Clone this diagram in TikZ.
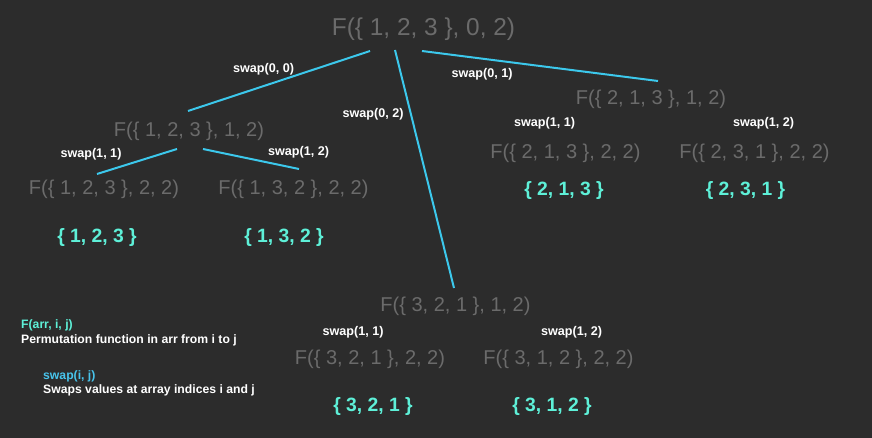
\documentclass[tikz,border=0pt]{standalone}
\usepackage{fontspec}
\setmainfont{Liberation Sans}
\usetikzlibrary{positioning}

\definecolor{bgdark}{HTML}{2C2C2C}
\definecolor{callgray}{HTML}{6B6B6B}
\definecolor{edgecyan}{HTML}{3CC8EC}
\definecolor{resteal}{HTML}{5EF0D8}
\definecolor{keyblue}{HTML}{48C4EC}

\begin{document}
\begin{tikzpicture}[
  x=1pt, y=-1pt,
  call/.style={inner sep=0pt, text=callgray, font=\fontsize{20}{22}\selectfont},
  top/.style={call, font=\fontsize{24.4}{26}\selectfont},
  res/.style={inner sep=0pt, text=resteal, font=\fontsize{19.3}{21}\selectfont\bfseries},
  swp/.style={inner sep=0pt, text=white, font=\fontsize{12.6}{14}\selectfont\bfseries},
  edge/.style={draw=edgecyan, line width=2pt},
  key/.style={inner sep=0pt, anchor=west, text=white, font=\fontsize{12.2}{14}\selectfont\bfseries},
]

% dark canvas, same size as the screenshot
\fill[bgdark] (0,0) rectangle (872,438);

% #1 node-id, #2 x, #3 y, #4 array, #5 result x, #6 result y
\newcommand{\leafcall}[6]{%
  \node[call] (#1) at (#2,#3) {F(\{ #4 \}, 2, 2)};
  \node[res] (#1-out) at (#5,#6) {\{ #4 \}};
}

% root call
\node[top] (root) at (423.5,29) {F(\{ 1, 2, 3 \}, 0, 2)};

% second level
\node[call] (lft) at (189,131) {F(\{ 1, 2, 3 \}, 1, 2)};
\node[call] (rgt) at (651,99) {F(\{ 2, 1, 3 \}, 1, 2)};
\node[call] (mid) at (455.5,306) {F(\{ 3, 2, 1 \}, 1, 2)};

% leaves with their permutations underneath
\leafcall{lfta}{104}{189}{1, 2, 3}{97}{238}
\leafcall{lftb}{293.5}{189}{1, 3, 2}{284}{238}
\leafcall{rgta}{565.5}{153}{2, 1, 3}{564}{191}
\leafcall{rgtb}{754.5}{153}{2, 3, 1}{745.5}{191}
\leafcall{mida}{370}{359}{3, 2, 1}{373}{407}
\leafcall{midb}{558.5}{359}{3, 1, 2}{552}{407}

% connectors (only the top level and the left subtree have lines)
\draw[edge] ([shift={(-53.5,22)}]root.center) -- ([shift={(-1,-20)}]lft.center);
\draw[edge] ([shift={(-28.5,21)}]root.center) -- ([shift={(-1.5,-18)}]mid.center);
\draw[edge] ([shift={(-1.5,22)}]root.center) -- ([shift={(7,-18)}]rgt.center);
\draw[edge] ([shift={(-12,18)}]lft.center) -- ([shift={(-7,-15)}]lfta.center);
\draw[edge] ([shift={(14,18)}]lft.center) -- ([shift={(5.5,-20)}]lftb.center);

% swap labels
\node[swp] (s00) at (263.5,69) {swap(0, 0)};
\node[swp] (s02) at (373,114) {swap(0, 2)};
\node[swp] (s01) at (482,74) {swap(0, 1)};
\node[swp] (ls11) at (91,154) {swap(1, 1)};
\node[swp] (ls12) at (298.5,152) {swap(1, 2)};
\node[swp] (rs11) at (544.5,123) {swap(1, 1)};
\node[swp] (rs12) at (763.5,123) {swap(1, 2)};
\node[swp] (ms11) at (353,332) {swap(1, 1)};
\node[swp] (ms12) at (571.5,332) {swap(1, 2)};

% legend
\node[key, text=resteal] (keyf) at (21,325) {F(arr, i, j)};
\node[key] (keyfd) at (21,340) {Permutation function in arr from i to j};
\node[key, text=keyblue] (keys) at (43,376) {swap(i, j)};
\node[key] (keysd) at (43,390) {Swaps values at array indices i and j};

\end{tikzpicture}
\end{document}
